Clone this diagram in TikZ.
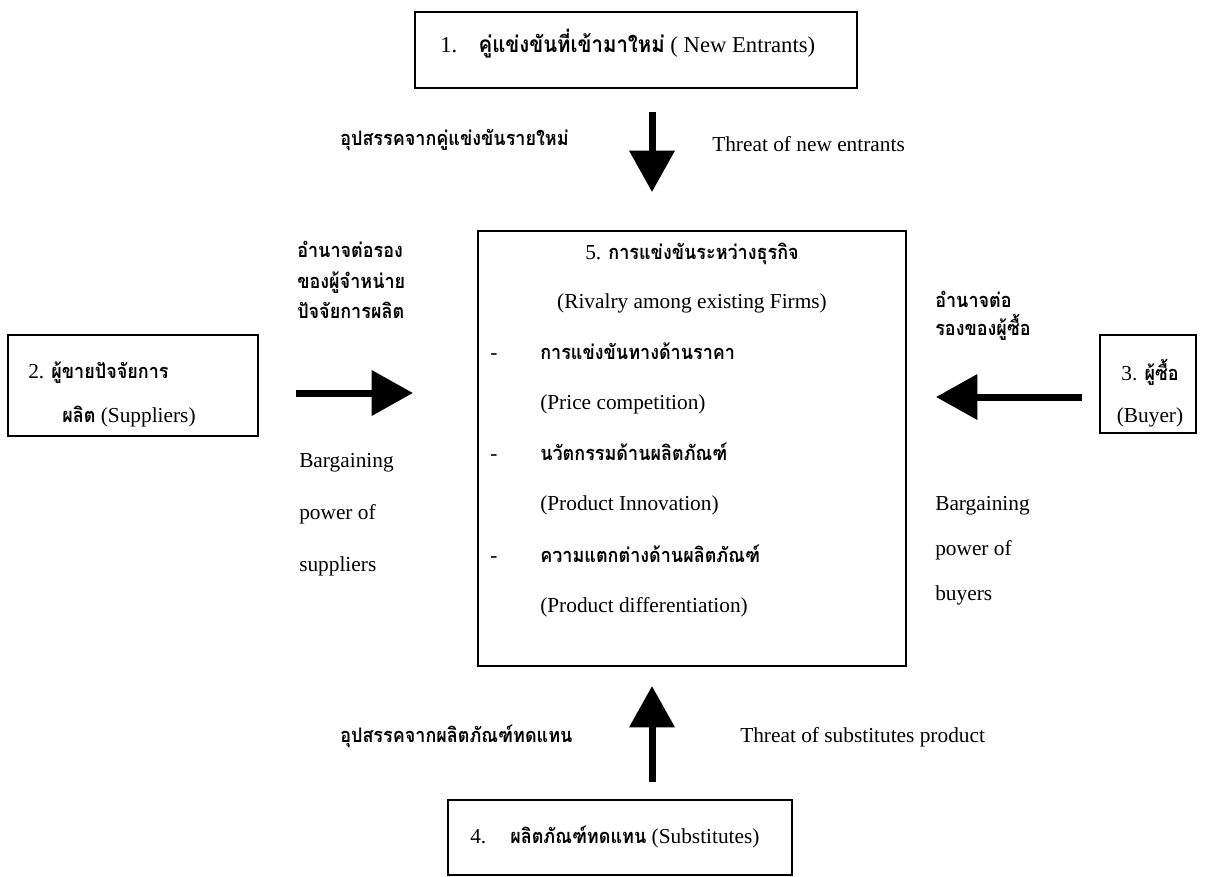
\documentclass[tikz,border=0pt]{standalone}
\usepackage{fontspec}
\setmainfont{Liberation Serif}
\newfontfamily\thaifont[Script=Thai,FakeStretch=0.9]{Loma}
\usetikzlibrary{arrows.meta}
\newcommand{\thtxt}[1]{{\thaifont\bfseries\fontsize{15}{18}\selectfont #1}}

\begin{document}
\begin{tikzpicture}[x=0.75pt,y=-0.75pt,
  font=\fontsize{16}{19}\selectfont,
  box/.style={draw,line width=1.6pt,inner sep=0pt},
  lbl/.style={inner sep=0pt,text height=11pt,text depth=3.5pt,anchor=west},
  clbl/.style={inner sep=0pt,text height=11pt,text depth=3.5pt},
  bigarrow/.style={line width=5.25pt,-{Triangle[length=31pt,width=33pt]}}]
\useasboundingbox (0,0) rectangle (1224,877);

% boxes
\node[box,minimum width=331.5pt,minimum height=57pt] (entr) at (636,50) {};
\node[box,minimum width=321pt,minimum height=326.25pt] (rival) at (692,448.5) {};
\node[box,minimum width=187.5pt,minimum height=75.75pt] (supp) at (133,385.5) {};
\node[box,minimum width=72pt,minimum height=73.5pt] (buyer) at (1148,384) {};
\node[box,minimum width=258pt,minimum height=56.25pt] (subst) at (620,837.5) {};

% box texts
\node[lbl,font=\fontsize{17}{20}\selectfont] (entrtxt) at (440,48) {1.\hspace{16pt}{\thaifont\bfseries\fontsize{17}{20}\selectfont คู่แข่งขันที่เข้ามาใหม่} ( New Entrants)};
\node[lbl] (supp1) at (28,373) {2. \thtxt{ผู้ขายปัจจัยการ}};
\node[lbl] (supp2) at (62,417) {\thtxt{ผลิต} (Suppliers)};
\node[clbl] (buyer1) at (1150,375) {3. \thtxt{ผู้ซื้อ}};
\node[clbl] (buyer2) at (1150,417) {(Buyer)};
\node[lbl] (substtxt) at (470,838) {4.\hspace{18pt}\thtxt{ผลิตภัณฑ์ทดแทน} (Substitutes)};

\node[clbl] (r1) at (692,255) {5. \thtxt{การแข่งขันระหว่างธุรกิจ}};
\node[clbl] (r2) at (692,303) {(Rivalry among existing Firms)};
\node[lbl] (d1) at (490,354) {-};
\node[lbl] (r3) at (540,354) {\thtxt{การแข่งขันทางด้านราคา}};
\node[lbl] (r4) at (540,404) {(Price competition)};
\node[lbl] (d2) at (490,455) {-};
\node[lbl] (r5) at (540,455) {\thtxt{นวัตกรรมด้านผลิตภัณฑ์}};
\node[lbl] (r6) at (540,505) {(Product Innovation)};
\node[lbl] (d3) at (490,557) {-};
\node[lbl] (r7) at (540,557) {\thtxt{ความแตกต่างด้านผลิตภัณฑ์}};
\node[lbl] (r8) at (540,607) {(Product differentiation)};

% arrow labels
\node[lbl] (th1) at (340,141) {\thtxt{อุปสรรคจากคู่แข่งขันรายใหม่}};
\node[lbl] (en1) at (712,147) {Threat of new entrants};
\node[lbl] (th2a) at (297,253) {\thtxt{อำนาจต่อรอง}};
\node[lbl] (th2b) at (297,284) {\thtxt{ของผู้จำหน่าย}};
\node[lbl] (th2c) at (297,313) {\thtxt{ปัจจัยการผลิต}};
\node[lbl] (en2a) at (299,462) {Bargaining};
\node[lbl] (en2b) at (299,514) {power of};
\node[lbl] (en2c) at (299,566) {suppliers};
\node[lbl] (th3a) at (935,302) {\thtxt{อำนาจต่อ}};
\node[lbl] (th3b) at (935,330) {\thtxt{รองของผู้ซื้อ}};
\node[lbl] (en3a) at (935,505) {Bargaining};
\node[lbl] (en3b) at (935,550) {power of};
\node[lbl] (en3c) at (935,595) {buyers};
\node[lbl] (th4) at (340,737) {\thtxt{อุปสรรคจากผลิตภัณฑ์ทดแทน}};
\node[lbl] (en4) at (740,737) {Threat of substitutes product};

% block arrows
\coordinate (a1s) at (652,112);
\coordinate (a1e) at (652,192);
\coordinate (a2s) at (296,393);
\coordinate (a2e) at (413,393);
\coordinate (a3s) at (1082,397);
\coordinate (a3e) at (936,397);
\coordinate (a4s) at (652,782);
\coordinate (a4e) at (652,686);
\draw[bigarrow] (a1s) -- (a1e);
\draw[bigarrow] (a2s) -- (a2e);
\draw[bigarrow] (a3s) -- (a3e);
\draw[bigarrow] (a4s) -- (a4e);
\end{tikzpicture}
\end{document}
